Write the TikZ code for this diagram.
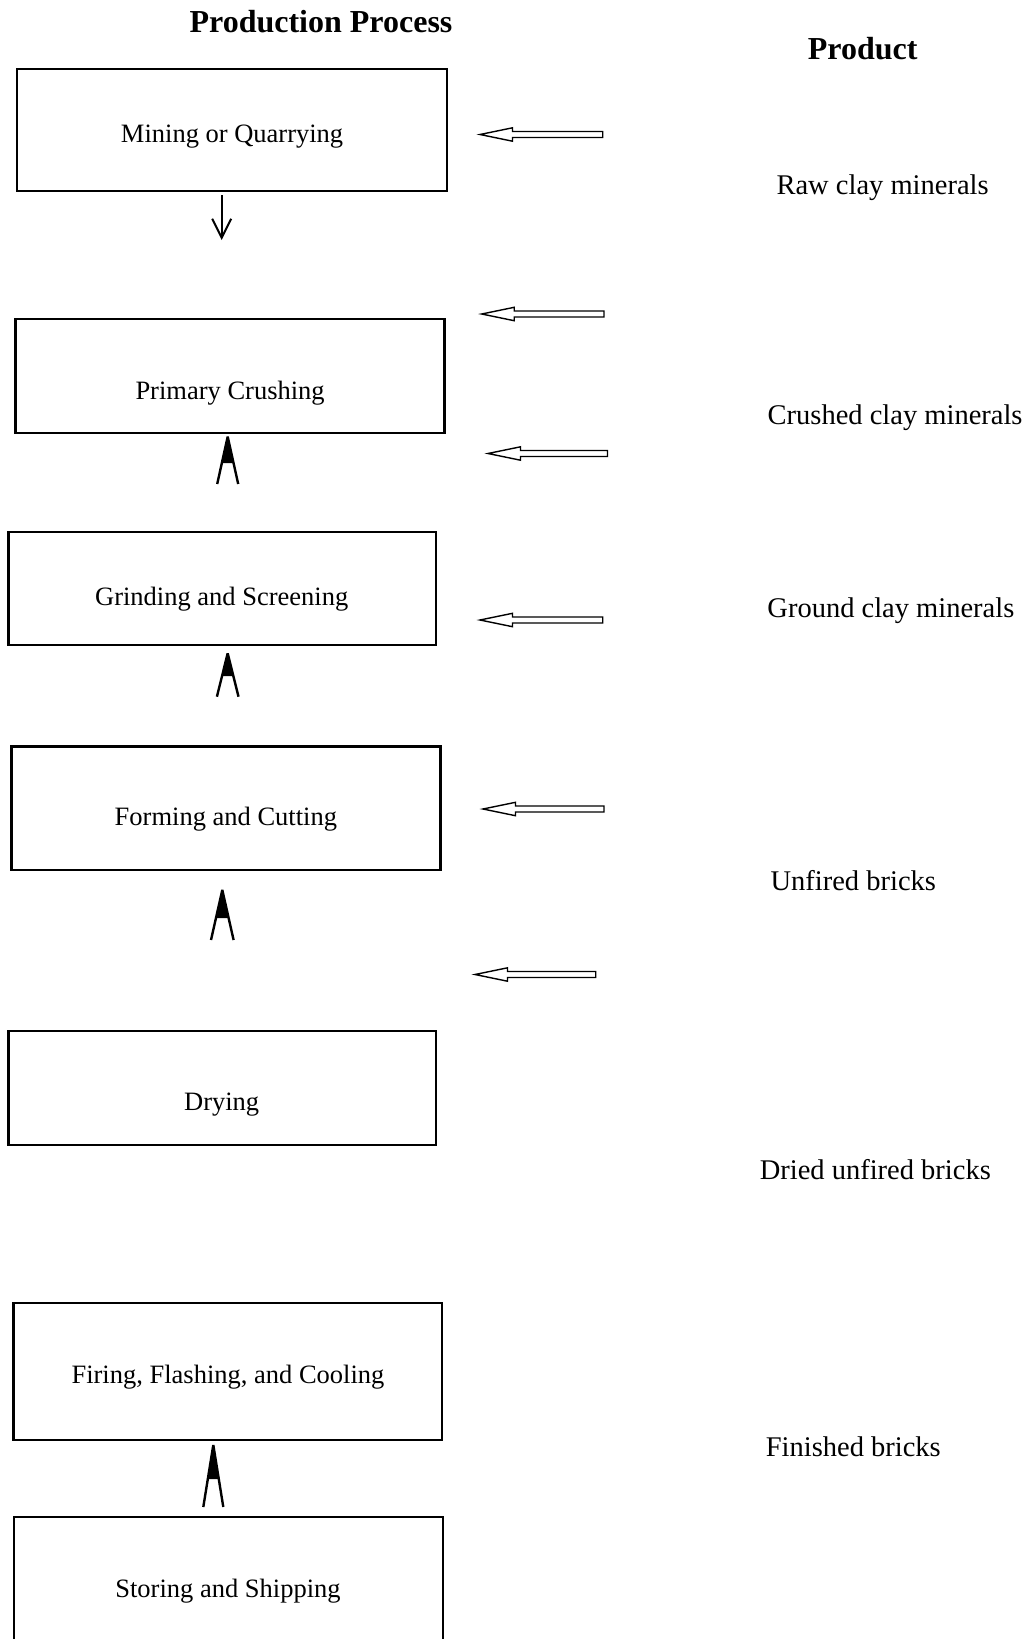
\documentclass[tikz,border=0pt]{standalone}
\usepackage{fontspec}
\setmainfont{Liberation Serif}
\usetikzlibrary{arrows.meta}
\tikzset{
  box/.style={draw, line width=2.9pt, rectangle, inner sep=0pt, outer sep=0pt},
  boxtext/.style={inner sep=0pt, font=\fontsize{26.5}{30}\selectfont},
  prodtext/.style={inner sep=0pt, font=\fontsize{28.5}{32}\selectfont},
  title/.style={inner sep=0pt, font=\fontsize{32}{36}\selectfont\bfseries},
  lamleg/.style={line width=2.4pt, line join=bevel},
  downarr/.style={line width=1.6pt, -{Straight Barb[length=19pt,width=19pt,line width=2pt]}},
  hollow/.pic={\draw[line width=1.4pt, line join=miter] (0,0) -- (32.5,-6.7) -- (32.5,-3) -- (#1,-3) -- (#1,3) -- (32.5,3) -- (32.5,6.7) -- cycle;}
}
% name, tipx, tipy, basey, halfwidth, filly, filloffset
\newcommand\lamarrow[7]{%
  \coordinate (#1) at (#2,#3);
  \draw[lamleg] (#2-#5,#4) -- (#1) -- (#2+#5,#4);
  \fill (#1) -- (#2-#7,#6) -- (#2+#7,#6) -- cycle;}
\begin{document}
\begin{tikzpicture}[x=1pt,y=-1pt]
\useasboundingbox (0,0) rectangle (1029,1639);
\clip (0,0) rectangle (1029,1639);
% titles
\node[title] (t1) at (321,21.5) {Production Process};
\node[title] (t2) at (862.7,48.5) {Product};
% boxes
\node[box, minimum width=430pt, minimum height=122pt] (b1) at (232,130) {};
\node[box, minimum width=428.7pt, minimum height=114pt] (b2) at (230,376) {};
\node[box, minimum width=427.6pt, minimum height=113pt] (b3) at (222.2,588.5) {};
\node[box, minimum width=428.5pt, minimum height=123.4pt] (b4) at (225.8,808.3) {};
\node[box, minimum width=427.6pt, minimum height=114pt] (b5) at (222.2,1088) {};
\node[box, minimum width=428.4pt, minimum height=137pt] (b6) at (227.8,1371.5) {};
\node[box, minimum width=429pt, minimum height=163pt] (b7) at (228.5,1598.5) {};
% box texts
\node[boxtext] (x1) at (232.1,137) {Mining or Quarrying};
\node[boxtext] (x2) at (230.1,393) {Primary Crushing};
\node[boxtext] (x3) at (221.7,599) {Grinding and Screening};
\node[boxtext] (x4) at (225.9,819.5) {Forming and Cutting};
\node[boxtext] (x5) at (221.7,1105) {Drying};
\node[boxtext] (x6) at (228,1377.5) {Firing, Flashing, and Cooling};
\node[boxtext] (x7) at (228,1591) {Storing and Shipping};
% product texts
\node[prodtext] (p1) at (882.6,188) {Raw clay minerals};
\node[prodtext] (p2) at (895.1,418) {Crushed clay minerals};
\node[prodtext] (p3) at (890.9,611) {Ground clay minerals};
\node[prodtext] (p4) at (853.3,881) {Unfired bricks};
\node[prodtext] (p5) at (875.3,1170) {Dried unfired bricks};
\node[prodtext] (p6) at (853.3,1446.5) {Finished bricks};
% down arrow
\coordinate (d0) at (221.7,195);
\coordinate (d1) at (221.7,240);
\draw[downarr] (d0) -- (d1);
% lambda arrows
\lamarrow{l1}{227.7}{436.7}{484}{10.5}{463}{5.84}
\lamarrow{l2}{227.7}{653.3}{696.7}{10.8}{676}{5.65}
\lamarrow{l3}{222.3}{890}{940}{11.3}{918}{6.33}
\lamarrow{l4}{213.3}{1445}{1507}{10}{1479}{5.48}
% hollow arrows
\pic (a1) at (480,134.5) {hollow=122.7};
\pic (a2) at (481.7,314) {hollow=122.3};
\pic (a3) at (488,453.5) {hollow=119.5};
\pic (a4) at (480,620) {hollow=122.7};
\pic (a5) at (483,809) {hollow=121};
\pic (a6) at (475,974.5) {hollow=120.7};
\end{tikzpicture}
\end{document}
